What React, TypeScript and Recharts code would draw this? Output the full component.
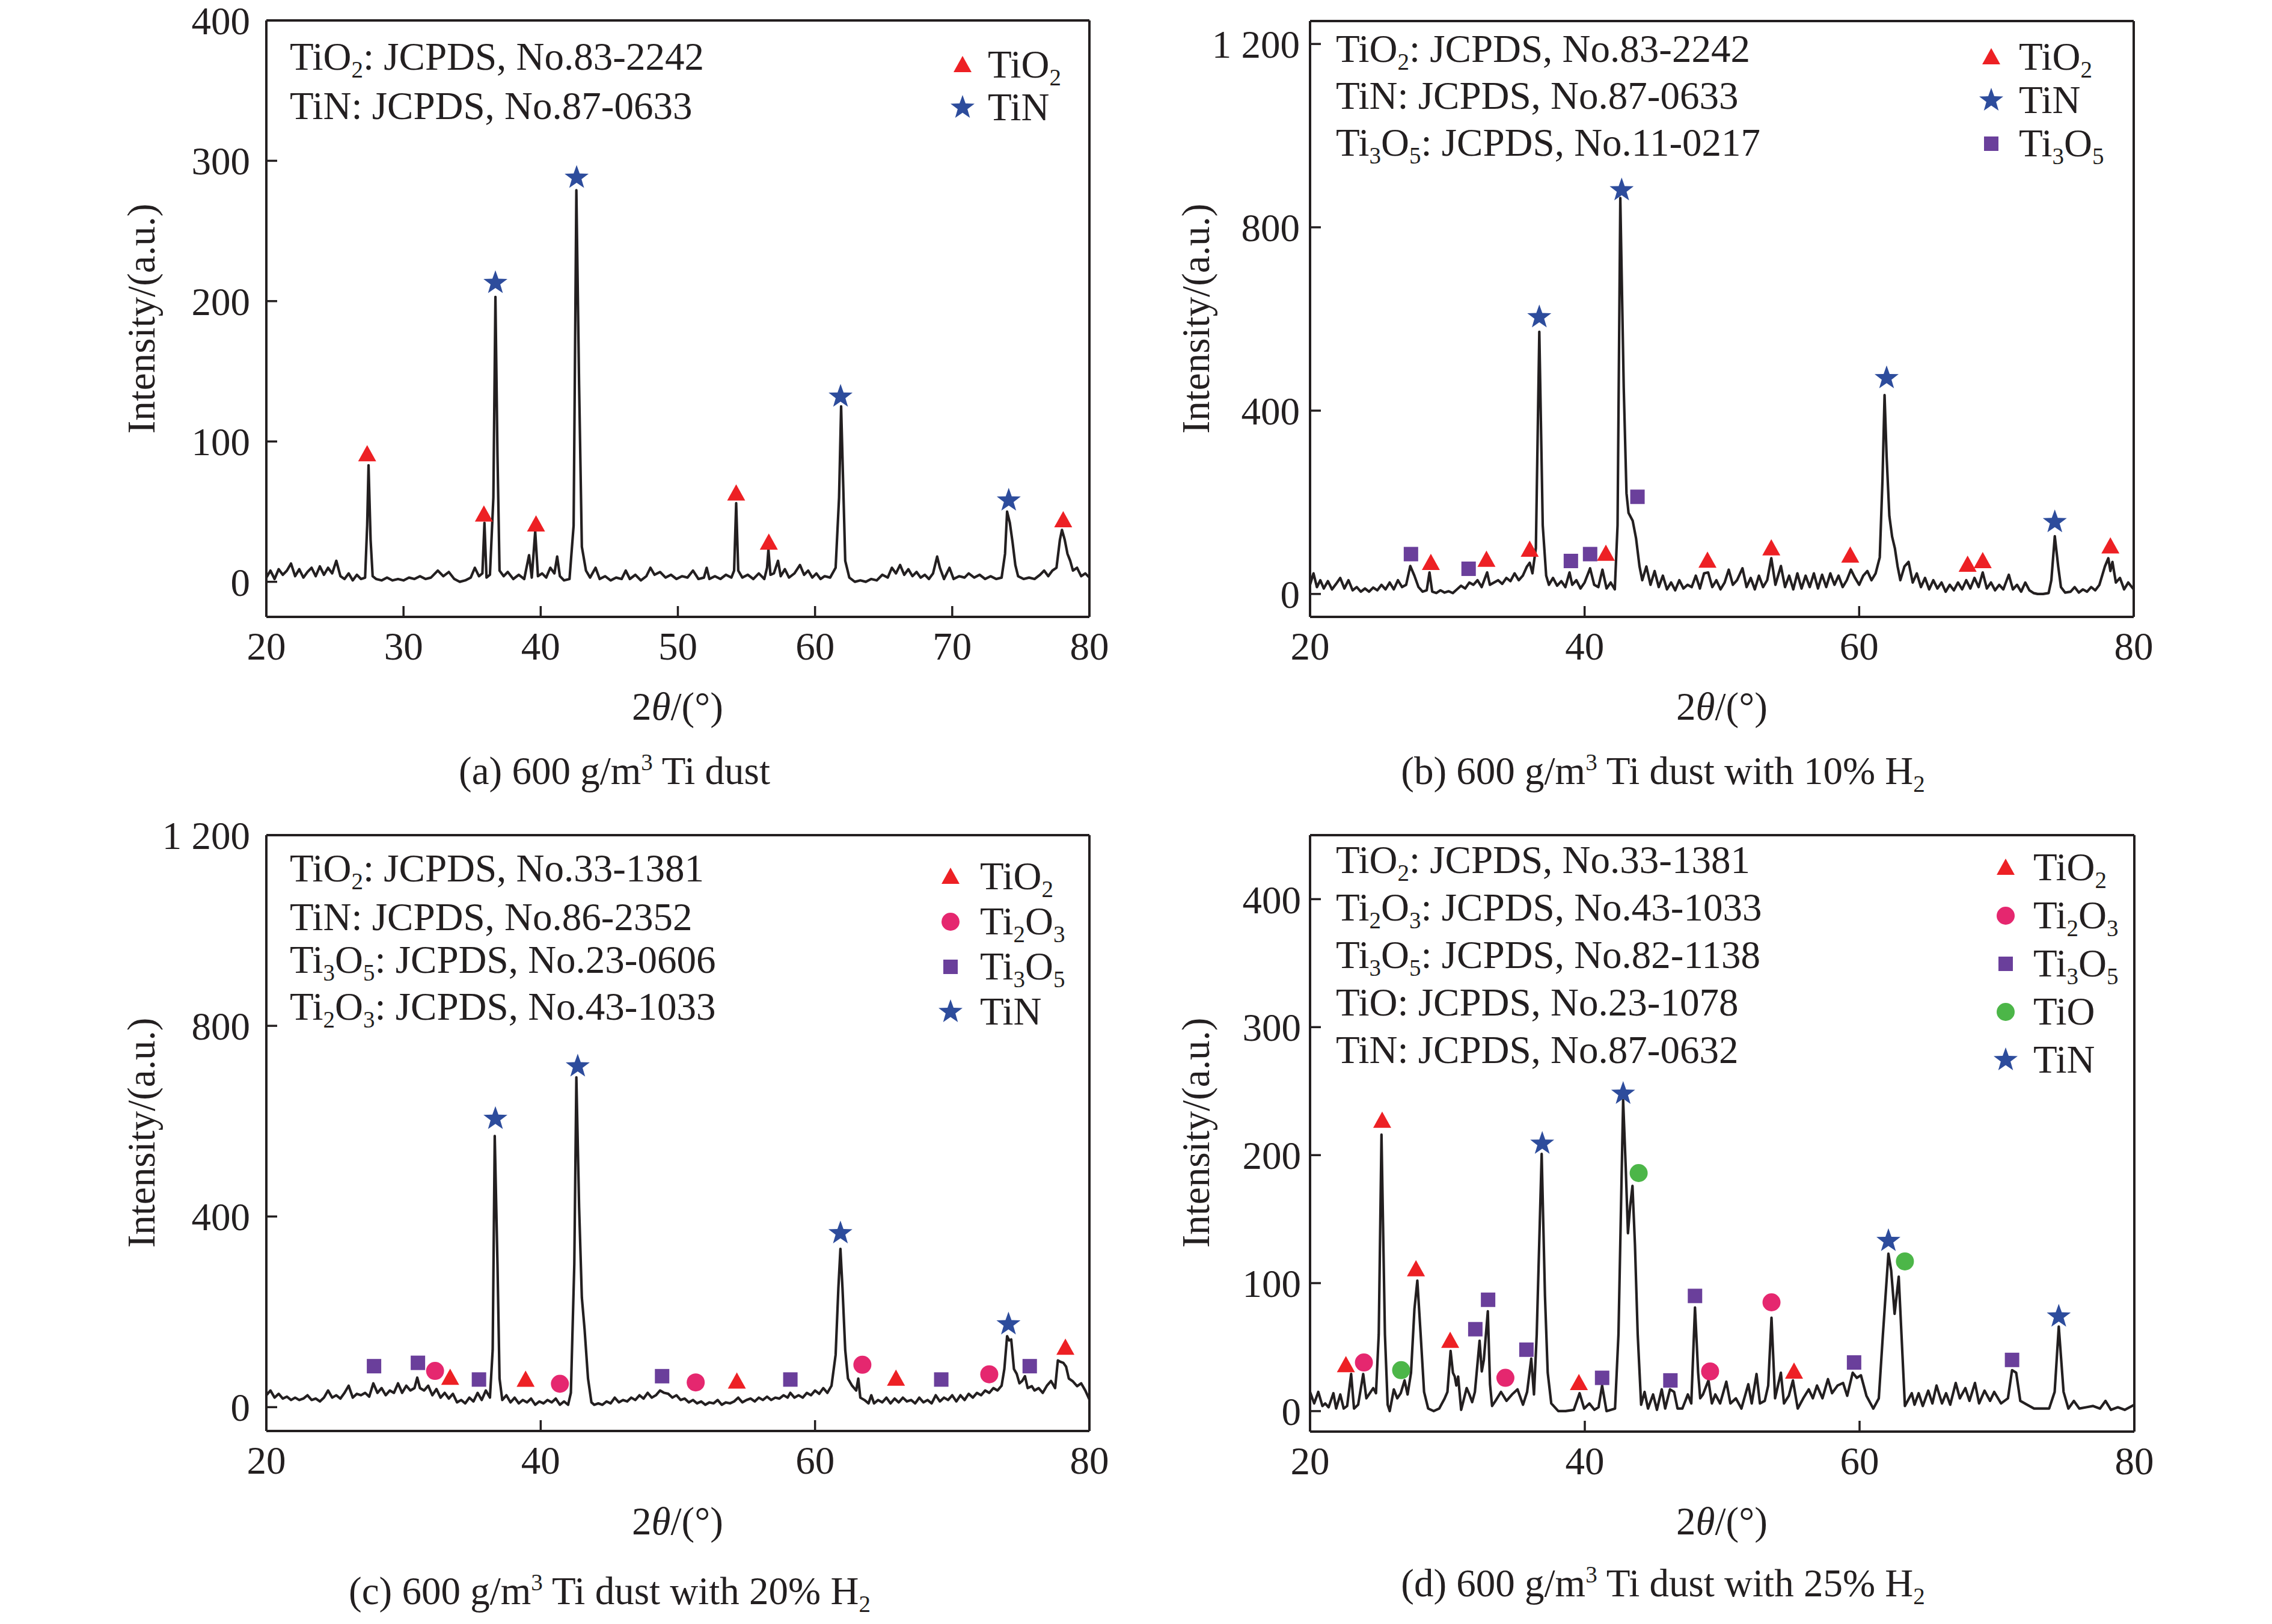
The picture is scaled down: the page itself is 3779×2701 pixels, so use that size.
import React from 'react'
import { ComposedChart, Line, Scatter, XAxis, YAxis } from 'recharts'

const FONT = '"Liberation Serif", Tinos, "Times New Roman", Times, "DejaVu Serif", serif'
const INK = '#231f20'
const RED = '#ed2024'
const BLUE = '#2d4c9c'
const PURPLE = '#6a3f9b'
const PINK = '#e5276f'
const GREEN = '#4cb648'

type P = [number, number]

// ---- tick values ----
const xTicksA = [20, 30, 40, 50, 60, 70, 80]
const xTicksB = [20, 40, 60, 80]
const yTicksA = [0, 100, 200, 300, 400]
const yTicksB = [0, 400, 800, 1200]
const yTicksD = [0, 100, 200, 300, 400]

// ---- (a) 600 g/m3 Ti dust ----
const xrdA: P[] = [
  [20, 3], [20.3, 8], [20.6, 2], [20.9, 9], [21.2, 5], [21.5, 8], [21.8, 13], [22.1, 4], [22.4, 9], [22.7, 3],
  [23.0, 7], [23.3, 10], [23.6, 4], [23.9, 11], [24.2, 5], [24.5, 10], [24.8, 6], [25.1, 15], [25.4, 4], [25.7, 2],
  [26.0, 6], [26.3, 1], [26.6, 5], [26.9, 2], [27.2, 3], [27.35, 40], [27.45, 83], [27.6, 30], [27.75, 4], [28.0, 2],
  [28.4, 1], [28.8, 3], [29.2, 1], [29.6, 2], [30.0, 1], [30.4, 3], [30.8, 2], [31.2, 4], [31.6, 2], [32.0, 3],
  [32.5, 8], [32.9, 4], [33.3, 7], [33.7, 2], [34.1, 0], [34.5, 1], [34.9, 3], [35.2, 10], [35.5, 4], [35.75, 6],
  [35.9, 42], [36.05, 3], [36.3, 5], [36.55, 60], [36.7, 203], [36.85, 90], [37.0, 8], [37.3, 4], [37.6, 7], [38.0, 2],
  [38.4, 5], [38.8, 2], [39.15, 19], [39.35, 3], [39.6, 36], [39.8, 4], [40.1, 6], [40.4, 3], [40.7, 10], [41.0, 6],
  [41.2, 18], [41.4, 4], [41.7, 1], [42.1, 2], [42.4, 40], [42.6, 279], [42.8, 140], [43.0, 25], [43.3, 8], [43.6, 3],
  [44.0, 10], [44.3, 2], [44.7, 4], [45.1, 1], [45.5, 3], [45.9, 2], [46.2, 8], [46.5, 2], [46.9, 5], [47.3, 1],
  [47.7, 4], [48.0, 10], [48.3, 5], [48.7, 7], [49.1, 3], [49.5, 5], [49.9, 2], [50.3, 4], [50.7, 3], [51.1, 8],
  [51.5, 2], [51.9, 3], [52.1, 10], [52.3, 2], [52.7, 4], [53.1, 2], [53.5, 5], [53.9, 3], [54.1, 8], [54.25, 56],
  [54.4, 8], [54.7, 3], [55.1, 5], [55.5, 2], [55.9, 6], [56.3, 2], [56.5, 10], [56.6, 23], [56.75, 5], [57.0, 6],
  [57.3, 15], [57.5, 4], [57.8, 9], [58.1, 3], [58.5, 6], [58.9, 12], [59.2, 5], [59.5, 8], [59.8, 3], [60.1, 6],
  [60.4, 2], [60.7, 4], [61.1, 3], [61.5, 10], [61.75, 60], [61.9, 125], [62.05, 70], [62.2, 15], [62.5, 3], [62.9, 0],
  [63.3, 1], [63.7, 0], [64.1, 2], [64.5, 1], [64.9, 5], [65.3, 3], [65.6, 10], [65.9, 6], [66.2, 12], [66.5, 5],
  [66.8, 9], [67.1, 4], [67.4, 7], [67.7, 3], [68.0, 5], [68.3, 2], [68.6, 6], [68.9, 18], [69.1, 10], [69.4, 2],
  [69.8, 10], [70.1, 2], [70.5, 4], [70.9, 3], [71.2, 6], [71.6, 3], [72.0, 5], [72.4, 2], [72.8, 4], [73.2, 2],
  [73.6, 3], [73.85, 20], [74.0, 50], [74.2, 42], [74.4, 28], [74.6, 12], [74.8, 4], [75.2, 2], [75.6, 3], [76.0, 2],
  [76.4, 5], [76.7, 8], [77.0, 4], [77.3, 8], [77.6, 10], [77.85, 30], [78.0, 37], [78.2, 30], [78.4, 20], [78.6, 15],
  [78.8, 8], [79.1, 10], [79.4, 4], [79.7, 6], [80, 3],
]
const aTiO2: P[] = [[27.35, 91], [35.86, 48], [39.66, 41], [54.25, 63], [56.63, 28], [78.09, 44]]
const aTiN: P[] = [[36.7, 213], [42.62, 288], [61.86, 132], [74.12, 58]]

// ---- (b) with 10% H2 ----
const xrdB: P[] = [
  [20, 20], [20.25, 45], [20.5, 15], [20.75, 30], [21.0, 12], [21.3, 28], [21.6, 10], [21.9, 22], [22.2, 35], [22.5, 12],
  [22.8, 30], [23.1, 8], [23.4, 15], [23.7, 5], [24.0, 12], [24.3, 5], [24.6, 14], [24.9, 8], [25.2, 20], [25.5, 10],
  [25.8, 25], [26.1, 10], [26.4, 30], [26.7, 15], [27.0, 20], [27.3, 61], [27.6, 40], [27.9, 15], [28.2, 5], [28.5, 8],
  [28.7, 47], [28.9, 5], [29.2, 2], [29.5, 8], [29.8, 3], [30.1, 6], [30.4, 2], [30.7, 10], [31.0, 18], [31.3, 12],
  [31.6, 25], [31.9, 20], [32.2, 30], [32.5, 15], [32.9, 47], [33.1, 20], [33.4, 25], [33.7, 30], [34.0, 22], [34.3, 35],
  [34.6, 28], [34.9, 45], [35.2, 30], [35.5, 40], [35.8, 60], [36.0, 68], [36.2, 45], [36.45, 100], [36.7, 572], [36.95, 150],
  [37.2, 40], [37.4, 20], [37.7, 35], [38.0, 18], [38.3, 28], [38.6, 15], [38.9, 47], [39.1, 20], [39.4, 30], [39.7, 12],
  [40.0, 25], [40.4, 56], [40.7, 20], [41.0, 15], [41.3, 53], [41.6, 12], [41.9, 25], [42.2, 10], [42.4, 150], [42.6, 864],
  [42.85, 450], [43.05, 220], [43.2, 177], [43.5, 160], [43.75, 121], [44.0, 60], [44.2, 30], [44.5, 60], [44.8, 20], [45.1, 50],
  [45.4, 15], [45.7, 40], [46.0, 10], [46.3, 25], [46.6, 8], [46.9, 30], [47.2, 12], [47.5, 20], [47.8, 15], [48.1, 40],
  [48.4, 12], [48.7, 45], [49.0, 47], [49.3, 15], [49.6, 30], [49.9, 10], [50.2, 25], [50.5, 53], [50.8, 20], [51.1, 30],
  [51.5, 56], [51.8, 15], [52.1, 35], [52.4, 10], [52.7, 40], [53.0, 15], [53.3, 30], [53.6, 78], [53.9, 20], [54.3, 61],
  [54.6, 15], [54.9, 40], [55.2, 10], [55.5, 45], [55.8, 12], [56.1, 40], [56.4, 15], [56.7, 45], [57.0, 12], [57.3, 42],
  [57.6, 15], [57.9, 45], [58.2, 20], [58.5, 40], [58.8, 15], [59.1, 30], [59.4, 53], [59.7, 35], [60.0, 20], [60.3, 40],
  [60.6, 50], [60.9, 30], [61.2, 45], [61.5, 80], [61.7, 250], [61.85, 434], [62.0, 300], [62.2, 170], [62.4, 125], [62.6, 100],
  [62.8, 60], [63.0, 30], [63.3, 60], [63.6, 70], [63.9, 25], [64.2, 45], [64.5, 15], [64.8, 35], [65.1, 10], [65.4, 30],
  [65.7, 12], [66.0, 25], [66.3, 5], [66.6, 20], [66.9, 8], [67.2, 25], [67.5, 10], [67.8, 30], [68.1, 12], [68.4, 35],
  [68.7, 15], [69.0, 47], [69.3, 12], [69.6, 25], [69.9, 8], [70.2, 20], [70.5, 10], [70.9, 42], [71.2, 10], [71.5, 20],
  [71.8, 5], [72.1, 25], [72.4, 8], [72.7, 2], [73.0, 0], [73.4, 0], [73.8, 2], [74.0, 30], [74.25, 126], [74.5, 60],
  [74.7, 15], [75.0, 3], [75.4, 5], [75.7, 15], [76.0, 3], [76.3, 10], [76.6, 5], [76.9, 15], [77.2, 8], [77.5, 20],
  [77.9, 60], [78.15, 78], [78.3, 50], [78.45, 70], [78.7, 25], [79.0, 35], [79.3, 10], [79.6, 25], [80, 10],
]
const bTiO2: P[] = [[28.8, 68], [32.85, 75], [36.0, 97], [41.55, 88], [48.95, 73], [53.6, 100], [59.35, 84], [67.9, 64], [69.0, 72], [78.3, 104]]
const bTiN: P[] = [[36.7, 604], [42.7, 881], [62.0, 471], [74.25, 157]]
const bTi3O5: P[] = [[27.35, 87], [31.55, 55], [39.0, 72], [40.4, 87], [43.85, 212]]

// ---- (c) with 20% H2 ----
const xrdC: P[] = [
  [20, 25], [20.3, 35], [20.6, 20], [20.9, 28], [21.2, 18], [21.5, 22], [21.8, 15], [22.1, 20], [22.4, 15], [22.7, 18],
  [23.0, 25], [23.3, 15], [23.6, 18], [23.9, 12], [24.2, 20], [24.5, 35], [24.8, 20], [25.1, 25], [25.4, 18], [25.7, 30],
  [26.0, 45], [26.3, 20], [26.6, 28], [26.9, 25], [27.2, 30], [27.5, 22], [27.8, 50], [28.1, 30], [28.4, 40], [28.7, 25],
  [29.0, 35], [29.3, 30], [29.6, 50], [29.9, 30], [30.2, 45], [30.5, 35], [30.8, 40], [31.0, 62], [31.2, 40], [31.5, 35],
  [31.8, 45], [32.1, 25], [32.4, 38], [32.7, 20], [33.0, 30], [33.3, 18], [33.6, 28], [33.9, 10], [34.2, 15], [34.5, 8],
  [34.8, 20], [35.1, 12], [35.4, 30], [35.7, 15], [36.0, 35], [36.3, 20], [36.5, 120], [36.65, 569], [36.85, 300], [37.0, 60],
  [37.2, 15], [37.5, 25], [37.8, 10], [38.1, 20], [38.4, 8], [38.7, 15], [39.0, 10], [39.3, 18], [39.6, 5], [39.9, 12],
  [40.2, 8], [40.5, 15], [40.8, 10], [41.1, 18], [41.4, 5], [41.7, 12], [42.0, 5], [42.2, 30], [42.45, 300], [42.6, 692],
  [42.8, 420], [43.0, 230], [43.2, 163], [43.45, 60], [43.7, 10], [43.9, 5], [44.2, 8], [44.5, 5], [44.8, 12], [45.1, 8],
  [45.4, 20], [45.7, 10], [46.0, 15], [46.3, 12], [46.6, 20], [46.9, 15], [47.2, 25], [47.5, 18], [47.8, 30], [48.1, 20],
  [48.4, 25], [48.7, 35], [49.0, 30], [49.3, 28], [49.6, 20], [49.9, 25], [50.2, 15], [50.5, 18], [50.8, 10], [51.1, 15],
  [51.4, 8], [51.7, 12], [52.0, 5], [52.3, 10], [52.6, 8], [52.9, 15], [53.2, 5], [53.5, 10], [53.8, 8], [54.1, 12],
  [54.4, 20], [54.7, 10], [55.0, 15], [55.3, 18], [55.6, 12], [55.9, 20], [56.2, 15], [56.5, 22], [56.8, 15], [57.1, 20],
  [57.4, 18], [57.7, 25], [58.0, 20], [58.2, 30], [58.5, 20], [58.8, 25], [59.1, 20], [59.4, 30], [59.7, 25], [60.0, 35],
  [60.3, 28], [60.6, 40], [60.9, 30], [61.2, 45], [61.5, 110], [61.7, 250], [61.85, 332], [62.0, 250], [62.2, 120], [62.4, 60],
  [62.7, 45], [63.0, 35], [63.15, 60], [63.3, 20], [63.6, 15], [63.9, 8], [64.1, 25], [64.3, 8], [64.6, 15], [64.9, 10],
  [65.2, 20], [65.5, 8], [65.8, 18], [66.1, 10], [66.4, 20], [66.7, 12], [67.0, 15], [67.3, 8], [67.6, 20], [67.9, 10],
  [68.2, 15], [68.5, 8], [68.8, 25], [69.1, 12], [69.4, 20], [69.7, 15], [70.0, 25], [70.3, 12], [70.6, 25], [70.9, 15],
  [71.2, 28], [71.5, 20], [71.8, 30], [72.1, 25], [72.4, 35], [72.7, 30], [73.0, 40], [73.3, 35], [73.6, 45], [73.8, 80],
  [74.0, 149], [74.15, 140], [74.3, 142], [74.5, 80], [74.7, 70], [74.9, 50], [75.1, 55], [75.3, 65], [75.5, 40], [75.8, 44],
  [76.0, 35], [76.3, 40], [76.6, 30], [76.9, 45], [77.2, 55], [77.5, 40], [77.7, 98], [77.9, 95], [78.1, 93], [78.3, 85],
  [78.5, 60], [78.8, 54], [79.1, 44], [79.4, 50], [79.7, 35], [80, 16],
]
const cTiO2: P[] = [[33.4, 62], [38.9, 58], [54.3, 54], [65.9, 60], [78.25, 125]]
const cTi2O3: P[] = [[32.3, 76], [41.4, 49], [51.3, 52], [63.45, 89], [72.7, 69]]
const cTi3O5: P[] = [[27.85, 86], [31.05, 93], [35.5, 58], [48.85, 65], [58.2, 58], [69.2, 58], [75.65, 86]]
const cTiN: P[] = [[36.7, 605], [42.7, 715], [61.85, 365], [74.1, 174]]

// ---- (d) with 25% H2 ----
const xrdD: P[] = [
  [20, 15], [20.3, 6], [20.6, 15], [20.9, 4], [21.1, 6], [21.35, 3], [21.7, 14], [21.9, 2], [22.2, 13], [22.45, 2],
  [22.7, 4], [22.99, 29], [23.2, 2], [23.5, 5], [23.87, 29], [24.1, 10], [24.35, 14], [24.6, 18], [24.8, 14], [25.0, 60],
  [25.2, 216], [25.45, 60], [25.65, 5], [25.8, 0], [26.1, 17], [26.35, 10], [26.6, 14], [26.88, 24], [27.1, 13], [27.35, 30],
  [27.6, 80], [27.81, 102], [28.05, 60], [28.3, 15], [28.6, 2], [29.0, 0], [29.4, 2], [29.8, 10], [30.0, 15], [30.23, 47],
  [30.4, 30], [30.53, 27], [30.65, 20], [30.78, 27], [31.0, 1], [31.4, 18], [31.6, 13], [31.8, 7], [32.0, 15], [32.34, 55],
  [32.5, 31], [32.65, 40], [32.94, 78], [33.1, 21], [33.25, 4], [33.5, 8], [33.9, 15], [34.3, 8], [34.7, 13], [35.1, 17],
  [35.5, 5], [35.8, 15], [36.1, 41], [36.3, 13], [36.5, 60], [36.86, 201], [37.1, 90], [37.3, 30], [37.56, 6], [38.07, 0],
  [38.6, 0], [39.2, 1], [39.62, 14], [39.95, 2], [40.33, 6], [40.7, 1], [41.0, 3], [41.26, 20], [41.58, 0], [42.2, 2],
  [42.45, 60], [42.79, 243], [42.98, 190], [43.14, 139], [43.3, 160], [43.47, 176], [43.65, 130], [43.85, 60], [44.1, 5], [44.35, 15],
  [44.6, 2], [44.97, 13], [45.25, 1], [45.6, 17], [45.85, 2], [46.2, 17], [46.5, 15], [46.75, 2], [47.1, 2], [47.5, 13],
  [47.75, 6], [48.02, 81], [48.25, 30], [48.4, 10], [48.6, 13], [49.0, 24], [49.25, 6], [49.5, 13], [49.85, 6], [50.3, 23],
  [50.6, 6], [51.0, 10], [51.4, 2], [51.9, 21], [52.15, 6], [52.5, 29], [52.75, 6], [53.1, 8], [53.35, 20], [53.59, 73],
  [53.85, 10], [54.27, 30], [54.5, 6], [54.85, 12], [55.15, 24], [55.5, 2], [55.9, 10], [56.3, 17], [56.6, 10], [56.9, 20],
  [57.3, 10], [57.7, 25], [58.0, 14], [58.4, 20], [58.8, 22], [59.1, 12], [59.5, 30], [59.8, 26], [60.1, 28], [60.5, 12],
  [61.0, 2], [61.4, 10], [61.7, 60], [62.1, 123], [62.3, 110], [62.55, 76], [62.85, 105], [63.05, 60], [63.3, 4], [63.6, 10],
  [63.8, 14], [64.0, 5], [64.3, 14], [64.6, 4], [65.0, 16], [65.3, 6], [65.6, 20], [66.0, 6], [66.3, 14], [66.6, 5],
  [67.0, 22], [67.3, 10], [67.7, 18], [68.0, 8], [68.4, 22], [68.7, 6], [69.1, 16], [69.5, 8], [69.8, 15], [70.3, 6],
  [70.8, 10], [71.1, 32], [71.4, 30], [71.7, 8], [72.2, 5], [72.7, 2], [73.3, 2], [73.8, 2], [74.2, 15], [74.5, 66],
  [74.85, 15], [75.2, 2], [75.6, 8], [76.0, 2], [76.5, 3], [77.0, 4], [77.5, 2], [77.9, 8], [78.3, 1], [78.8, 3],
  [79.3, 1], [80, 5],
]
const dTiO2: P[] = [[22.61, 36], [25.25, 227], [27.71, 111], [30.2, 55], [39.57, 22], [55.23, 31]]
const dTi2O3: P[] = [[23.92, 38], [34.22, 26], [49.12, 31], [53.59, 85]]
const dTi3O5: P[] = [[32.03, 64], [32.96, 87], [35.75, 48], [41.26, 26], [46.23, 24], [48.02, 90], [59.6, 38], [71.1, 40]]
const dTiO: P[] = [[26.63, 32], [43.92, 186], [63.3, 117]]
const dTiN: P[] = [[36.9, 209], [42.79, 248], [62.1, 133], [74.5, 74]]

// ---- labels ----
const refsA = ['TiO_2: JCPDS, No.83-2242', 'TiN: JCPDS, No.87-0633']
const refsB = ['TiO_2: JCPDS, No.83-2242', 'TiN: JCPDS, No.87-0633', 'Ti_3O_5: JCPDS, No.11-0217']
const refsC = ['TiO_2: JCPDS, No.33-1381', 'TiN: JCPDS, No.86-2352', 'Ti_3O_5: JCPDS, No.23-0606', 'Ti_2O_3: JCPDS, No.43-1033']
const refsD = ['TiO_2: JCPDS, No.33-1381', 'Ti_2O_3: JCPDS, No.43-1033', 'Ti_3O_5: JCPDS, No.82-1138', 'TiO: JCPDS, No.23-1078', 'TiN: JCPDS, No.87-0632']
const captions = [
  '(a) 600 g/m^3 Ti dust',
  '(b) 600 g/m^3 Ti dust with 10% H_2',
  '(c) 600 g/m^3 Ti dust with 20% H_2',
  '(d) 600 g/m^3 Ti dust with 25% H_2',
]

const pts = (a: P[]) => a.map(([x, y]) => ({ x, y }))

// ---- marker shapes ----
const starPath = (cx: number, cy: number, R: number, r: number) => {
  let d = ''
  for (let i = 0; i < 10; i++) {
    const a = -Math.PI / 2 + (i * Math.PI) / 5
    const rad = i % 2 ? r : R
    d += (i ? 'L' : 'M') + (cx + rad * Math.cos(a)).toFixed(1) + ',' + (cy + rad * Math.sin(a)).toFixed(1)
  }
  return d + 'Z'
}
const tri = (p: any) => (
  <path d={`M${p.cx},${p.cy - 15}L${p.cx + 15},${p.cy + 12}L${p.cx - 15},${p.cy + 12}Z`} fill={RED} />
)
const star = (p: any) => <path d={starPath(p.cx, p.cy, 21, 8.5)} fill={BLUE} />
const sq = (p: any) => <rect x={p.cx - 12} y={p.cy - 12} width={24} height={24} fill={PURPLE} />
const dotPink = (p: any) => <circle cx={p.cx} cy={p.cy} r={15} fill={PINK} />
const dotGreen = (p: any) => <circle cx={p.cx} cy={p.cy} r={15} fill={GREEN} />

// ---- rich text with _sub and ^sup ----
type Seg = [string, number]
function parse(s: string): Seg[] {
  const out: Seg[] = []
  let buf = ''
  for (let i = 0; i < s.length; i++) {
    const c = s[i]
    if ((c === '_' || c === '^') && i + 1 < s.length) {
      if (buf) out.push([buf, 0])
      buf = ''
      out.push([s[i + 1], c === '_' ? 1 : -1])
      i++
    } else buf += c
  }
  if (buf) out.push([buf, 0])
  return out
}
function Rich({ x, y, s, size = 65, anchor = 'start' }: any) {
  let shift = 0
  return (
    <text x={x} y={y} fontSize={size} fontFamily={FONT} fill={INK} textAnchor={anchor}>
      {parse(s).map(([t, k], i) => {
        const target = k === 1 ? size * 0.2 : k === -1 ? -size * 0.36 : 0
        const dy = target - shift
        shift = target
        return (
          <tspan key={i} dy={dy} fontSize={k ? size * 0.6 : size}>
            {t}
          </tspan>
        )
      })}
    </text>
  )
}

const fmtY = (v: number) => (v >= 1000 ? `${Math.floor(v / 1000)} ${String(v % 1000).padStart(3, '0')}` : String(v))

const W = 1889
const H = 1350
const AX = 60 // space given to the bottom/left axes
const tickStyle = { fill: INK, fontSize: 65, fontFamily: FONT }
const lineStyle = { stroke: INK, strokeWidth: 4 }

// box = plot rectangle inside the panel's own coordinates
function Panel({ left, top, box, curve, xTicks, yDomain, yTicks, yGap, series }: any) {
  const margin = {
    top: box.top - 2,
    left: box.left - AX,
    right: W - box.right - 2,
    bottom: H - box.bottom - AX,
  }
  return (
    <div style={{ position: 'absolute', left, top }}>
      <ComposedChart width={W} height={H} margin={margin}>
        <XAxis
          type="number"
          dataKey="x"
          domain={[20, 80]}
          ticks={xTicks}
          interval={0}
          allowDataOverflow
          height={AX}
          tickSize={-18}
          tickMargin={43}
          axisLine={lineStyle}
          tickLine={{ stroke: INK, strokeWidth: 3.5 }}
          tick={tickStyle}
        />
        <XAxis xAxisId="top" orientation="top" type="number" domain={[20, 80]} height={2} tick={false} tickLine={false} axisLine={lineStyle} />
        <YAxis
          type="number"
          dataKey="y"
          domain={yDomain}
          ticks={yTicks}
          interval={0}
          allowDataOverflow
          width={AX}
          tickSize={-18}
          tickMargin={18 + yGap}
          tickFormatter={fmtY}
          axisLine={lineStyle}
          tickLine={{ stroke: INK, strokeWidth: 3.5 }}
          tick={tickStyle}
        />
        <YAxis yAxisId="right" orientation="right" type="number" domain={yDomain} width={2} tick={false} tickLine={false} axisLine={lineStyle} />
        <Line data={pts(curve)} dataKey="y" type="linear" dot={false} stroke={INK} strokeWidth={4.2} strokeLinejoin="round" isAnimationActive={false} />
        {series.map((s: any, i: number) => (
          <Scatter key={i} data={pts(s.data)} shape={s.shape} isAnimationActive={false} />
        ))}
      </ComposedChart>
    </div>
  )
}

function Legend({ x, y0, step, items, labelX }: any) {
  return (
    <g>
      {items.map((it: any, i: number) => (
        <g key={i}>
          {it.shape({ cx: x, cy: y0 + i * step })}
          <Rich x={labelX} y={y0 + i * step + 21} s={it.label} />
        </g>
      ))}
    </g>
  )
}

function Theta({ x, y }: any) {
  return (
    <text x={x} y={y} fontSize={65} fontFamily={FONT} fill={INK} textAnchor="middle">
      <tspan>2</tspan>
      <tspan fontStyle="italic">θ</tspan>
      <tspan>/(°)</tspan>
    </text>
  )
}

function YTitle({ x, y }: any) {
  return (
    <text x={x} y={y} fontSize={65} fontFamily={FONT} fill={INK} textAnchor="middle" dominantBaseline="central" transform={`rotate(-90 ${x} ${y})`}>
      Intensity/(a.u.)
    </text>
  )
}

export default function App() {
  return (
    <div style={{ position: 'absolute', left: 0, top: 0, width: 3779, height: 2701, background: '#fff', overflow: 'hidden' }}>
      <Panel
        left={0}
        top={0}
        box={{ left: 443, top: 34, right: 1812, bottom: 1026 }}
        curve={xrdA}
        xTicks={xTicksA}
        yDomain={[-25, 400]}
        yTicks={yTicksA}
        yGap={27}
        series={[
          { data: aTiO2, shape: tri },
          { data: aTiN, shape: star },
        ]}
      />
      <Panel
        left={1890}
        top={0}
        box={{ left: 289, top: 35, right: 1659, bottom: 1026 }}
        curve={xrdB}
        xTicks={xTicksB}
        yDomain={[-50, 1250]}
        yTicks={yTicksB}
        yGap={17}
        series={[
          { data: bTiO2, shape: tri },
          { data: bTi3O5, shape: sq },
          { data: bTiN, shape: star },
        ]}
      />
      <Panel
        left={0}
        top={1350}
        box={{ left: 443, top: 39, right: 1812, bottom: 1030 }}
        curve={xrdC}
        xTicks={xTicksB}
        yDomain={[-50, 1200]}
        yTicks={yTicksB}
        yGap={27}
        series={[
          { data: cTi3O5, shape: sq },
          { data: cTi2O3, shape: dotPink },
          { data: cTiO2, shape: tri },
          { data: cTiN, shape: star },
        ]}
      />
      <Panel
        left={1890}
        top={1350}
        box={{ left: 289, top: 39, right: 1660, bottom: 1031 }}
        curve={xrdD}
        xTicks={xTicksB}
        yDomain={[-16, 450]}
        yTicks={yTicksD}
        yGap={15}
        series={[
          { data: dTi3O5, shape: sq },
          { data: dTi2O3, shape: dotPink },
          { data: dTiO, shape: dotGreen },
          { data: dTiO2, shape: tri },
          { data: dTiN, shape: star },
        ]}
      />

      <svg width={3779} height={2701} style={{ position: 'absolute', left: 0, top: 0, pointerEvents: 'none' }}>
        {/* reference cards */}
        {refsA.map((s, i) => <Rich key={'a' + i} x={482} y={116 + i * 82} s={s} />)}
        {refsB.map((s, i) => <Rich key={'b' + i} x={2222} y={103 + i * 78} s={s} />)}
        {refsC.map((s, i) => <Rich key={'c' + i} x={482} y={[1466, 1547, 1618, 1696][i]} s={s} />)}
        {refsD.map((s, i) => <Rich key={'d' + i} x={2222} y={1452 + i * 79} s={s} />)}

        {/* legends */}
        <Legend x={1601} y0={108} step={71} labelX={1643} items={[{ shape: tri, label: 'TiO_2' }, { shape: star, label: 'TiN' }]} />
        <Legend x={3312} y0={95} step={72} labelX={3358} items={[{ shape: tri, label: 'TiO_2' }, { shape: star, label: 'TiN' }, { shape: sq, label: 'Ti_3O_5' }]} />
        <Legend x={1581} y0={1458} step={75} labelX={1630} items={[{ shape: tri, label: 'TiO_2' }, { shape: dotPink, label: 'Ti_2O_3' }, { shape: sq, label: 'Ti_3O_5' }, { shape: star, label: 'TiN' }]} />
        <Legend x={3336} y0={1443} step={80} labelX={3382} items={[{ shape: tri, label: 'TiO_2' }, { shape: dotPink, label: 'Ti_2O_3' }, { shape: sq, label: 'Ti_3O_5' }, { shape: dotGreen, label: 'TiO' }, { shape: star, label: 'TiN' }]} />

        {/* axis titles */}
        <YTitle x={235} y={530} />
        <YTitle x={1989} y={530} />
        <YTitle x={235} y={1884} />
        <YTitle x={1989} y={1884} />
        <Theta x={1127} y={1197} />
        <Theta x={2864} y={1197} />
        <Theta x={1127} y={2552} />
        <Theta x={2864} y={2552} />

        {/* captions */}
        <Rich x={1022} y={1304} s={captions[0]} anchor="middle" />
        <Rich x={2766} y={1304} s={captions[1]} anchor="middle" />
        <Rich x={1014} y={2668} s={captions[2]} anchor="middle" />
        <Rich x={2766} y={2655} s={captions[3]} anchor="middle" />
      </svg>
    </div>
  )
}
